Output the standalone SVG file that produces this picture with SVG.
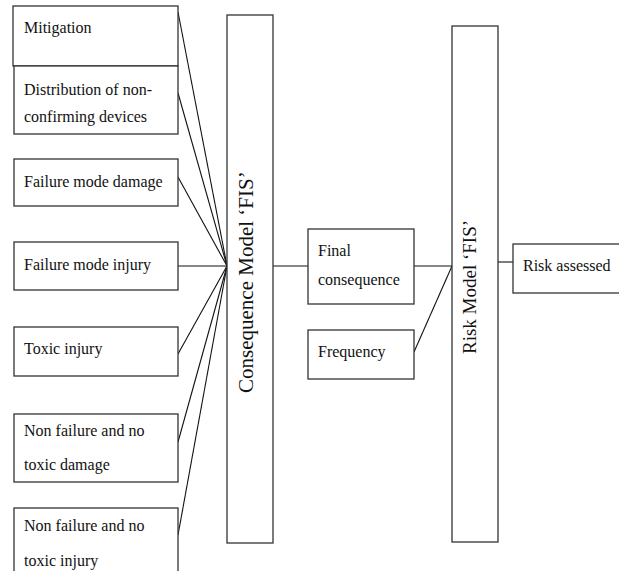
<svg xmlns="http://www.w3.org/2000/svg" width="619" height="571" viewBox="0 0 619 571">
<style>
.b{fill:#fff;stroke:#333;stroke-width:1.3}
.t{font-family:"Liberation Serif","Times New Roman",serif;font-size:16px;fill:#111}
.v{font-family:"Liberation Serif","Times New Roman",serif;fill:#111}
.c line{stroke:#111;stroke-width:1.1}
</style>
<rect width="619" height="571" fill="#fff"/>
<g class="c" id="connectors">
<line x1="178" y1="12" x2="227" y2="266"/>
<line x1="178" y1="93" x2="227" y2="266"/>
<line x1="178" y1="177" x2="227" y2="266"/>
<line x1="178" y1="266" x2="227" y2="266"/>
<line x1="178" y1="354" x2="227" y2="266"/>
<line x1="178" y1="442" x2="227" y2="266"/>
<line x1="178" y1="535" x2="227" y2="266"/>
<line x1="273" y1="266" x2="309" y2="266"/>
<line x1="414" y1="266" x2="452" y2="266"/>
<line x1="414" y1="352" x2="452" y2="266"/>
<line x1="498" y1="262" x2="513" y2="262"/>
</g>
<g id="mitigation"><rect class="b" x="13" y="6" width="165" height="60"/><text class="t" x="24" y="33">Mitigation</text></g>
<g id="distribution"><rect class="b" x="14" y="66" width="164" height="68"/><text class="t" x="24" y="95">Distribution of non-</text><text class="t" x="24" y="122">confirming devices</text></g>
<g id="fm-damage"><rect class="b" x="14" y="159" width="164" height="47"/><text class="t" x="24" y="187">Failure mode damage</text></g>
<g id="fm-injury"><rect class="b" x="14" y="242" width="164" height="48"/><text class="t" x="24" y="270">Failure mode injury</text></g>
<g id="toxic-injury"><rect class="b" x="14" y="327" width="164" height="49"/><text class="t" x="24" y="354">Toxic injury</text></g>
<g id="nf-damage"><rect class="b" x="14" y="414" width="164" height="68"/><text class="t" x="24" y="436">Non failure and no</text><text class="t" x="24" y="470">toxic damage</text></g>
<g id="nf-injury"><rect class="b" x="14" y="508" width="164" height="70"/><text class="t" x="24" y="531">Non failure and no</text><text class="t" x="24" y="566">toxic injury</text></g>
<g id="consequence-model"><rect class="b" x="227" y="15" width="46" height="528"/><text class="v" font-size="21" transform="translate(253,393) rotate(-90)">Consequence Model ‘FIS’</text></g>
<g id="final-consequence"><rect class="b" x="308" y="229" width="106" height="75"/><text class="t" x="318" y="256">Final</text><text class="t" x="318" y="285">consequence</text></g>
<g id="frequency"><rect class="b" x="308" y="330" width="106" height="49"/><text class="t" x="318" y="357">Frequency</text></g>
<g id="risk-model"><rect class="b" x="452" y="26" width="46" height="516"/><text class="v" font-size="19" transform="translate(476,354) rotate(-90)">Risk Model ‘FIS’</text></g>
<g id="risk-assessed"><rect class="b" x="513" y="244" width="110" height="49"/><text class="t" x="523" y="271">Risk assessed</text></g>
</svg>
